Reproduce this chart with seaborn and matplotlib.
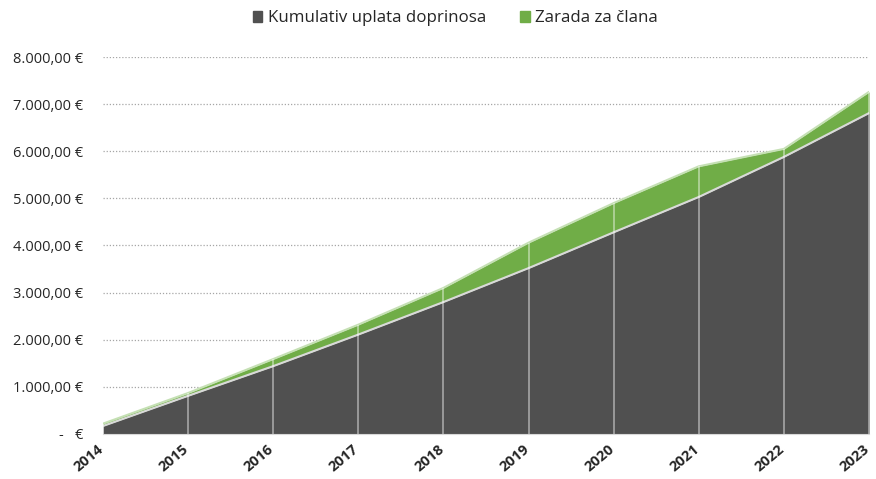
import numpy as np
import pandas as pd
import matplotlib
matplotlib.use("Agg")
import matplotlib.pyplot as plt
import matplotlib.transforms as mtransforms
import seaborn as sns
from matplotlib.ticker import FuncFormatter
from matplotlib.patches import Patch

# data
years = [2014, 2015, 2016, 2017, 2018, 2019, 2020, 2021, 2022, 2023]
kumulativ = [170, 810, 1440, 2110, 2800, 3520, 4280, 5030, 5880, 6810]
zarada = [50, 60, 150, 210, 300, 540, 620, 650, 170, 450]

df = pd.DataFrame({"godina": years, "kumulativ": kumulativ, "zarada": zarada})
df["ukupno"] = df["kumulativ"] + df["zarada"]

sns.set_style("white")
plt.rcParams["font.family"] = ["Open Sans", "DejaVu Sans"]

dark = "#505050"
green = "#70AD47"

fig = plt.figure(figsize=(8.76, 4.79), dpi=100)
ax = fig.add_axes([0.1176, 0.094, 0.8744, 0.787])

ax.fill_between(df["godina"], 0, df["kumulativ"], color=dark, lw=0, zorder=2)
ax.fill_between(df["godina"], df["kumulativ"], df["ukupno"], color=green, lw=0, zorder=2)

# boundary lines
sns.lineplot(data=df, x="godina", y="kumulativ", color="#d9d9d9", lw=1.5, ax=ax, zorder=3)
sns.lineplot(data=df, x="godina", y="ukupno", color="#c5e0b4", lw=1.5, ax=ax, zorder=3)

# drop lines
ax.vlines(df["godina"], 0, df["ukupno"], color="white", alpha=0.45, lw=1.3, zorder=4)

ax.set_xlim(years[0], years[-1])
ax.set_ylim(0, 8000)
ax.set_yticks(np.arange(0, 8001, 1000))
ax.yaxis.grid(True, linestyle=(0, (1, 1.5)), color="#a6a6a6", lw=0.9, zorder=0)
ax.set_axisbelow(True)


def eur(v, pos):
    if v == 0:
        return "-   €"
    s = f"{v:,.2f}".replace(",", "X").replace(".", ",").replace("X", ".")
    return s + " €"


ax.yaxis.set_major_formatter(FuncFormatter(eur))
ax.set_xticks(years)
ax.set_xticklabels([])
# year labels placed by hand, slightly left of the tick so 2023 stays inside
lbl_trans = ax.get_xaxis_transform() + mtransforms.ScaledTranslation(-0.06, -0.08, fig.dpi_scale_trans)
for y in years:
    ax.text(y, 0, str(y), transform=lbl_trans, rotation=40, ha="right", va="top",
            rotation_mode="anchor", fontweight="bold", fontsize=10.5, color="#262626")
ax.tick_params(axis="y", labelsize=10.5, length=0, pad=14, labelcolor="#262626")
ax.tick_params(axis="x", length=0)
ax.set_xlabel("")
ax.set_ylabel("")
for s in ["top", "right", "left"]:
    ax.spines[s].set_visible(False)
ax.spines["bottom"].set_color("#d9d9d9")

handles = [Patch(color=dark, label="Kumulativ uplata doprinosa"),
           Patch(color=green, label="Zarada za člana")]
fig.legend(handles=handles, loc="upper center", bbox_to_anchor=(0.52, 1.01), ncol=2,
           frameon=False, fontsize=12.2, handlelength=0.55, handleheight=0.55,
           handletextpad=0.35, columnspacing=2.0, labelcolor="#262626")

fig.savefig("out.png", dpi=100)
